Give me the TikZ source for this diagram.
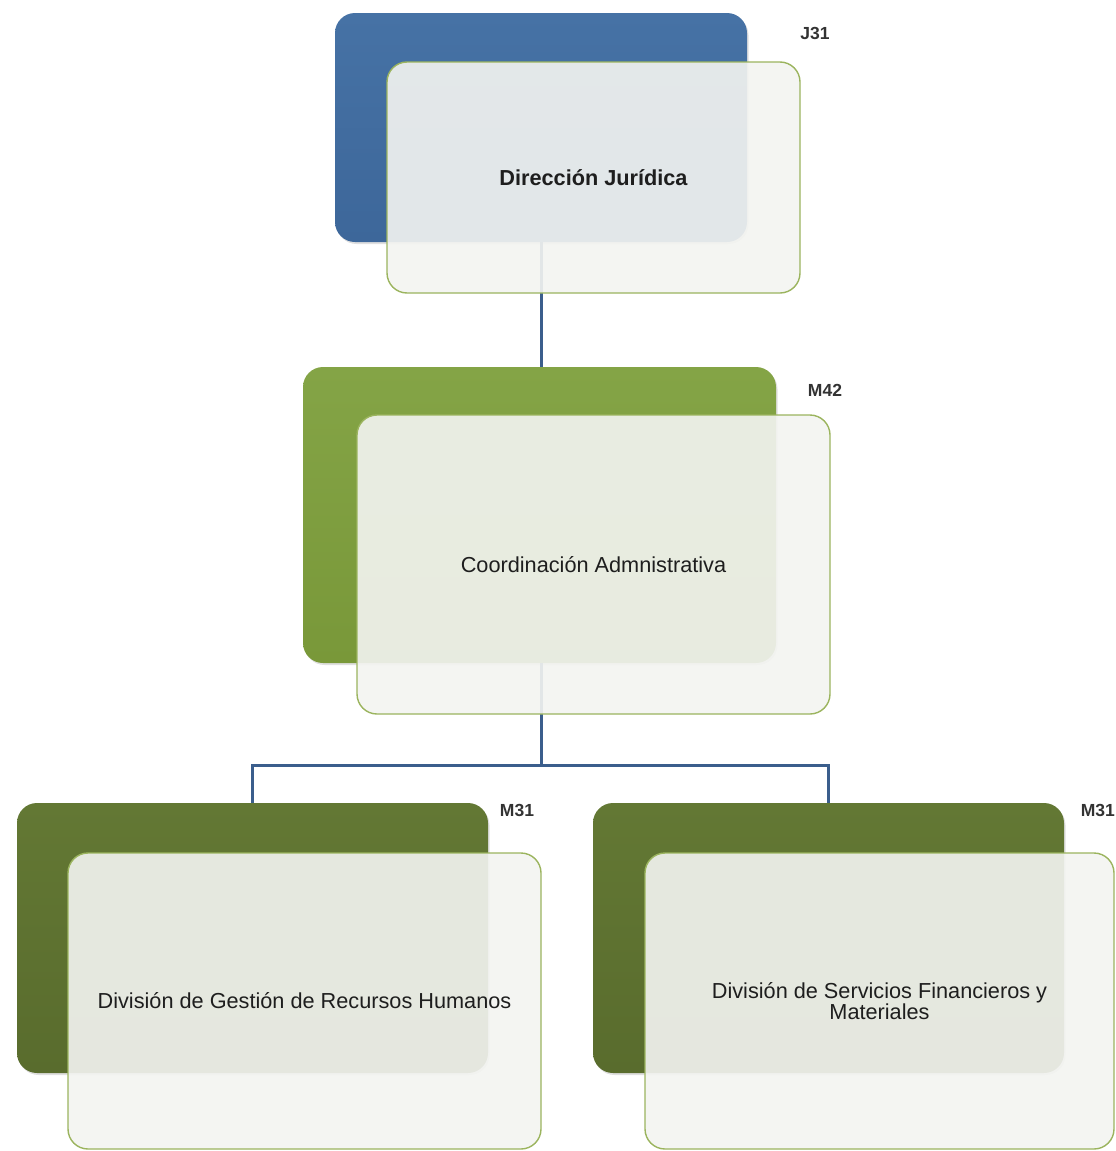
\documentclass[tikz,border=0pt]{standalone}
\usepackage{fontspec}
\setmainfont{Liberation Sans}
\usetikzlibrary{shadows}
\definecolor{bluebox}{HTML}{3D679A}
\definecolor{blueboxtop}{HTML}{4672A5}
\definecolor{greenbox}{HTML}{799839}
\definecolor{greenboxtop}{HTML}{84A446}
\definecolor{dgreenbox}{HTML}{596C2D}
\definecolor{dgreenboxtop}{HTML}{637834}
\definecolor{frontfill}{HTML}{F3F4F1}
\definecolor{frontline}{HTML}{9BB45E}
\definecolor{conn}{HTML}{3B5E8C}
\definecolor{txt}{HTML}{1E1E1E}
\begin{document}
\begin{tikzpicture}[x=1pt,y=-1pt,
  backbox/.style={rectangle, rounded corners=20pt, draw=none,
    drop shadow={opacity=0.25, shadow xshift=1.5pt, shadow yshift=-2pt}},
  bluebk/.style={backbox, top color=blueboxtop, bottom color=bluebox},
  greenbk/.style={backbox, top color=greenboxtop, bottom color=greenbox},
  dgreenbk/.style={backbox, top color=dgreenboxtop, bottom color=dgreenbox},
  frontbox/.style={rectangle, rounded corners=20pt, draw=frontline, line width=1.4pt,
    fill=frontfill, fill opacity=0.91, text opacity=1, text=txt,
    font=\fontsize{21.7}{20}\selectfont, align=center, inner sep=0pt},
  code/.style={font=\bfseries\fontsize{17.5}{20}\selectfont, text=black!80, inner sep=0pt},
  link/.style={draw=conn, line width=3pt}]
\useasboundingbox (0,0) rectangle (1116,1151);

% back boxes
\node[bluebk, minimum width=412pt, minimum height=229pt] (b1) at (541,127.5) {};
\node[greenbk, minimum width=473pt, minimum height=296pt] (b2) at (539.5,515) {};
\node[dgreenbk, minimum width=471pt, minimum height=270pt] (b3) at (252.5,938) {};
\node[dgreenbk, minimum width=471pt, minimum height=270pt] (b4) at (828.5,938) {};

% connectors
\coordinate (j1) at (b2.south |- 0,765);
\coordinate (jl) at (b3.north |- 0,765);
\coordinate (jr) at (b4.north |- 0,765);
\draw[link] (b1.south) -- (b1.south |- b2.north);
\draw[link] (b2.south -| b1.south) -- (b1.south |- j1) -- (jl) -- (b3.north);
\draw[link] (b1.south |- j1) -- (jr) -- (b4.north);

% front boxes
\node[frontbox, minimum width=413pt, minimum height=231pt] (f1) at (593.5,177.5) {\bfseries Dirección Jurídica};
\node[frontbox, minimum width=473pt, minimum height=299pt] (f2) at (593.5,564.5) {Coordinación Admnistrativa};
\node[frontbox, minimum width=473pt, minimum height=296pt] (f3) at (304.5,1001) {División de Gestión de Recursos Humanos};
\node[frontbox, minimum width=469pt, minimum height=296pt] (f4) at (879.5,1001) {División de Servicios Financieros y\\Materiales};

% codes
\node[code] (c1) at (815,33) {J31};
\node[code] (c2) at (825,390) {M42};
\node[code] (c3) at (517,810) {M31};
\node[code, anchor=east] (c4) at (1115,810) {M31};
\end{tikzpicture}
\end{document}
